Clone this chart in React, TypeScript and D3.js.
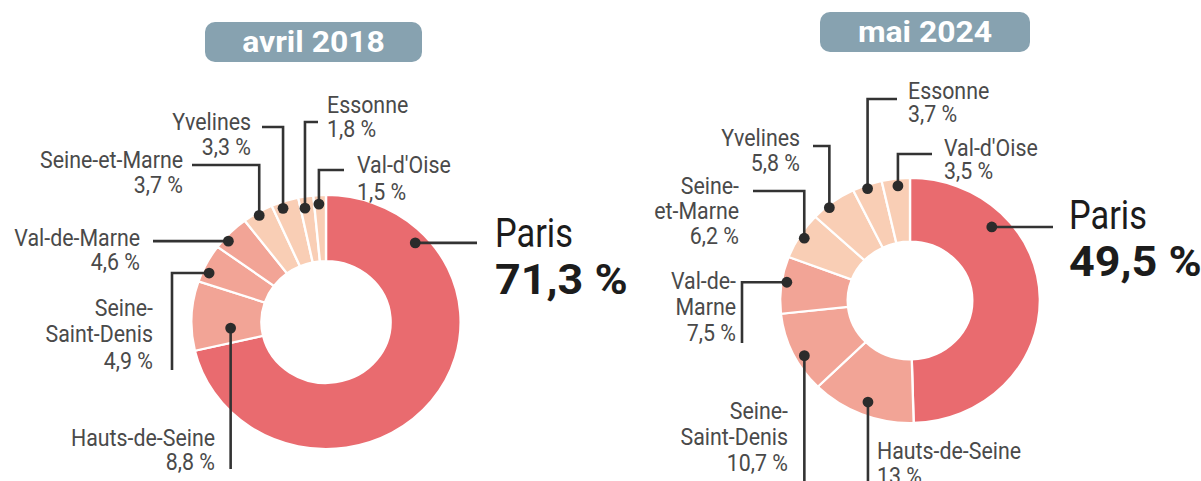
import React from "react";
import * as d3 from "d3";

// ---------- DATA ----------
const regions = [
  "Paris",
  "Hauts-de-Seine",
  "Seine-Saint-Denis",
  "Val-de-Marne",
  "Seine-et-Marne",
  "Yvelines",
  "Essonne",
  "Val-d'Oise",
];
const shares2018 = [71.3, 8.8, 4.9, 4.6, 3.7, 3.3, 1.8, 1.5];
const shares2024 = [49.5, 13, 10.7, 7.5, 6.2, 5.8, 3.7, 3.5];
const titles = ["avril 2018", "mai 2024"];
const labelLines2018 = [
  ["Paris"],
  ["Hauts-de-Seine"],
  ["Seine-", "Saint-Denis"],
  ["Val-de-Marne"],
  ["Seine-et-Marne"],
  ["Yvelines"],
  ["Essonne"],
  ["Val-d'Oise"],
];
const labelLines2024 = [
  ["Paris"],
  ["Hauts-de-Seine"],
  ["Seine-", "Saint-Denis"],
  ["Val-de-", "Marne"],
  ["Seine-", "et-Marne"],
  ["Yvelines"],
  ["Essonne"],
  ["Val-d'Oise"],
];
// colour group of each region: 0 = Paris, 1 = petite couronne, 2 = grande couronne
const colorGroup = [0, 1, 1, 1, 2, 2, 2, 2];

// ---------- STYLE / LAYOUT ----------
const groupColors = ["#e96b6f", "#f2a496", "#f9ceb5"];
const titleColor = "#87a2b0";
const leadColor = "#333333";
const labelColor = "#4a4a4a";

type Lead = ["h" | "v", number];
type LabelLayout = {
  af: number; // position of the dot along the slice (0..1)
  rf: number; // radial position of the dot (fraction of outer radius)
  lead: Lead[];
  tx: number;
  ty: number;
  anchor: "start" | "end";
  lh?: number;
  big?: boolean;
};
type ChartLayout = {
  cx: number;
  cy: number;
  ry: number;
  sx: number;
  inner: number;
  box: { x: number; y: number; w: number; h: number };
  labels: LabelLayout[];
};

const layout2018: ChartLayout = {
  cx: 326,
  cy: 322,
  ry: 127,
  sx: 1.06,
  inner: 0.48,
  box: { x: 205, y: 22, w: 217, h: 40 },
  labels: [
    { af: 0.182, rf: 0.91, lead: [["h", 477]], tx: 495, ty: 247, anchor: "start", big: true },
    { af: 0.29, rf: 0.71, lead: [["v", 469]], tx: 215, ty: 446, anchor: "end", lh: 24 },
    { af: 0.3, rf: 0.95, lead: [["h", 172], ["v", 370]], tx: 153, ty: 316, anchor: "end", lh: 26.5 },
    { af: 0.3, rf: 0.965, lead: [["h", 153]], tx: 140, ty: 246, anchor: "end", lh: 24 },
    { af: 0.49, rf: 0.975, lead: [["v", 165], ["h", 192]], tx: 183, ty: 168, anchor: "end", lh: 25 },
    { af: 0.35, rf: 0.95, lead: [["v", 127], ["h", 262]], tx: 251, ty: 130, anchor: "end", lh: 25 },
    { af: 0.31, rf: 0.91, lead: [["v", 122], ["h", 318]], tx: 327, ty: 113, anchor: "start", lh: 24 },
    { af: 0.4, rf: 0.93, lead: [["v", 170], ["h", 344]], tx: 357, ty: 173, anchor: "start", lh: 27 },
  ],
};

const layout2024: ChartLayout = {
  cx: 910,
  cy: 300.5,
  ry: 122.5,
  sx: 1.06,
  inner: 0.48,
  box: { x: 820, y: 12, w: 210, h: 40 },
  labels: [
    { af: 0.26, rf: 0.87, lead: [["h", 1053]], tx: 1069, ty: 229, anchor: "start", big: true },
    { af: 0.49, rf: 0.89, lead: [["v", 490]], tx: 877, ty: 459, anchor: "start", lh: 25 },
    { af: 0.41, rf: 0.93, lead: [["v", 490]], tx: 788, ty: 419, anchor: "end", lh: 26 },
    { af: 0.56, rf: 0.96, lead: [["h", 742], ["v", 343]], tx: 736, ty: 289, anchor: "end", lh: 26 },
    { af: 0.5, rf: 0.96, lead: [["v", 191], ["h", 753]], tx: 739, ty: 194, anchor: "end", lh: 25 },
    { af: 0.36, rf: 0.98, lead: [["v", 146], ["h", 813]], tx: 800, ty: 146, anchor: "end", lh: 25 },
    { af: 0.47, rf: 0.97, lead: [["v", 99], ["h", 897]], tx: 908, ty: 99, anchor: "start", lh: 23 },
    { af: 0.55, rf: 0.94, lead: [["v", 154], ["h", 932]], tx: 944, ty: 156, anchor: "start", lh: 23 },
  ],
};

const FONT = "Roboto, 'Noto Sans', 'DejaVu Sans', sans-serif";
const fmt = (v: number) => String(v).replace(".", ",") + " %";

function Donut({
  values,
  lines,
  title,
  L,
}: {
  values: number[];
  lines: string[][];
  title: string;
  L: ChartLayout;
}) {
  const pie = d3
    .pie<number>()
    .sort(null)
    .value((d) => d)
    .startAngle(0)
    .endAngle(2 * Math.PI);
  const arcs = pie(values);
  const arc = d3
    .arc<d3.PieArcDatum<number>>()
    .innerRadius(L.ry * L.inner)
    .outerRadius(L.ry);

  return (
    <g>
      {/* title */}
      <rect
        x={L.box.x}
        y={L.box.y}
        width={L.box.w}
        height={L.box.h}
        rx={10}
        ry={10}
        fill={titleColor}
      />
      <g transform={`translate(${L.box.x + L.box.w / 2},${L.box.y + L.box.h / 2 + 10}) scale(1.1,1)`}>
        <text
          textAnchor="middle"
          fontFamily={FONT}
          fontWeight={700}
          fontSize={29}
          fill="#ffffff"
        >
          {title}
        </text>
      </g>

      {/* donut */}
      <g transform={`translate(${L.cx},${L.cy}) scale(${L.sx},1)`}>
        {arcs.map((a, i) => (
          <path
            key={i}
            d={arc(a) || ""}
            fill={groupColors[colorGroup[i]]}
            stroke="#ffffff"
            strokeWidth={2.2}
          />
        ))}
      </g>

      {/* leaders, dots and labels */}
      {arcs.map((a, i) => {
        const lay = L.labels[i];
        const ang = a.startAngle + lay.af * (a.endAngle - a.startAngle);
        const r = lay.rf * L.ry;
        const dx = L.cx + L.sx * r * Math.sin(ang);
        const dy = L.cy - r * Math.cos(ang);
        let d = `M${dx},${dy}`;
        lay.lead.forEach(([k, v]) => {
          d += k === "h" ? `H${v}` : `V${v}`;
        });
        const txtLines = [...lines[i], fmt(values[i])];
        return (
          <g key={"l" + i}>
            <path d={d} fill="none" stroke={leadColor} strokeWidth={2.6} />
            <circle cx={dx} cy={dy} r={5.4} fill="#2b2b2b" />
            {lay.big ? (
              <g>
                <g transform={`translate(${lay.tx},${lay.ty}) scale(0.86,1)`}>
                  <text fontFamily={FONT} fontSize={40} fill="#1c1c1c" textAnchor="start">
                    {txtLines[0]}
                  </text>
                </g>
                <g transform={`translate(${lay.tx},${lay.ty + 47}) scale(1.07,1)`}>
                  <text
                    fontFamily={FONT}
                    fontWeight={700}
                    fontSize={42}
                    fill="#1c1c1c"
                    textAnchor="start"
                  >
                    {txtLines[1]}
                  </text>
                </g>
              </g>
            ) : (
              <g transform={`translate(${lay.tx},${lay.ty}) scale(0.89,1)`}>
                {txtLines.map((t, j) => (
                  <text
                    key={j}
                    y={j * (lay.lh || 25)}
                    fontFamily={FONT}
                    fontSize={24}
                    fill={labelColor}
                    textAnchor={lay.anchor}
                  >
                    {t}
                  </text>
                ))}
              </g>
            )}
          </g>
        );
      })}
    </g>
  );
}

export default function App() {
  return (
    <svg
      width={1201}
      height={481}
      viewBox="0 0 1201 481"
      style={{ position: "absolute", left: 0, top: 0, background: "#ffffff" }}
    >
      <rect x={0} y={0} width={1201} height={481} fill="#ffffff" />
      <Donut values={shares2018} lines={labelLines2018} title={titles[0]} L={layout2018} />
      <Donut values={shares2024} lines={labelLines2024} title={titles[1]} L={layout2024} />
    </svg>
  );
}
